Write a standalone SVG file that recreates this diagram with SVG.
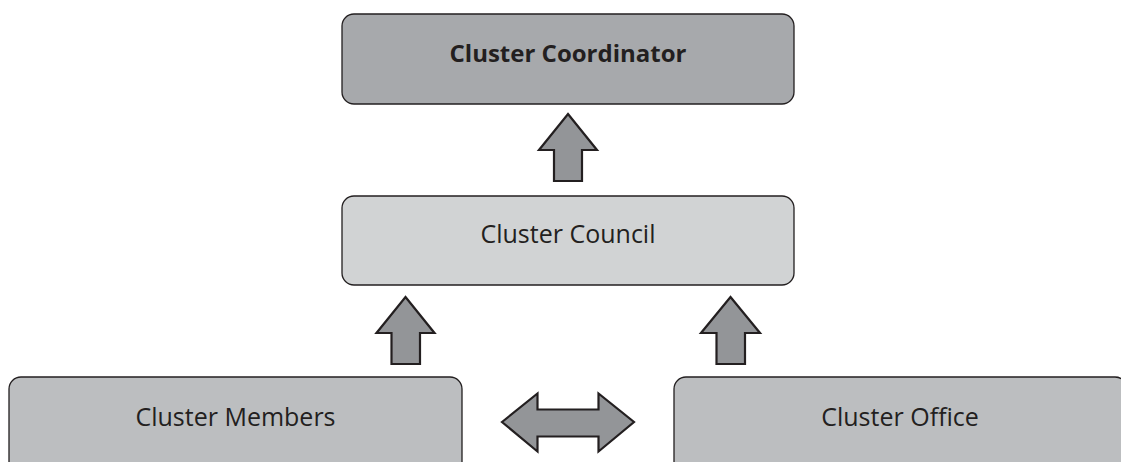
<svg xmlns="http://www.w3.org/2000/svg" width="1121" height="462" viewBox="0 0 1121 462">
  <style>
    .box { stroke: #231f20; stroke-width: 1.3; }
    .lbl { font-family: "Open Sans", "Liberation Sans", sans-serif; font-size: 25px; fill: #231f20; text-anchor: middle; }
    .bold { font-weight: bold; font-size: 24px; }
    .arrow { fill: #939598; stroke: #231f20; stroke-width: 2.2; stroke-linejoin: miter; }
  </style>
  <rect width="1121" height="462" fill="#ffffff"/>

  <g id="cluster-coordinator">
    <rect class="box" x="342" y="14" width="452" height="90" rx="12" fill="#a7a9ac"/>
    <text class="lbl bold" x="568" y="62">Cluster Coordinator</text>
  </g>

  <g id="cluster-council">
    <rect class="box" x="342" y="196" width="452" height="89" rx="12" fill="#d1d3d4"/>
    <text class="lbl" x="568" y="243">Cluster Council</text>
  </g>

  <g id="cluster-members">
    <rect class="box" x="9" y="377" width="453" height="100" rx="12" fill="#bcbec0"/>
    <text class="lbl" x="235.5" y="426">Cluster Members</text>
  </g>

  <g id="cluster-office">
    <rect class="box" x="674" y="377" width="453" height="100" rx="12" fill="#bcbec0"/>
    <text class="lbl" x="900" y="426">Cluster Office</text>
  </g>

  <g id="connectors">
    <!-- council to coordinator -->
    <polygon class="arrow" points="568,114 597,150 582,150 582,181 554,181 554,150 539,150"/>
    <!-- members to council -->
    <polygon class="arrow" points="405.5,297 434.5,333 420,333 420,364 391.5,364 391.5,333 376.5,333"/>
    <!-- office to council -->
    <polygon class="arrow" points="730.5,297 760,333 745,333 745,364 716.5,364 716.5,333 701,333"/>
    <!-- members and office, both ways -->
    <polygon class="arrow" points="502,422 537.5,393.5 537.5,409.5 598.5,409.5 598.5,393.5 634,422 598.5,451.5 598.5,436.5 537.5,436.5 537.5,451.5"/>
  </g>
</svg>
